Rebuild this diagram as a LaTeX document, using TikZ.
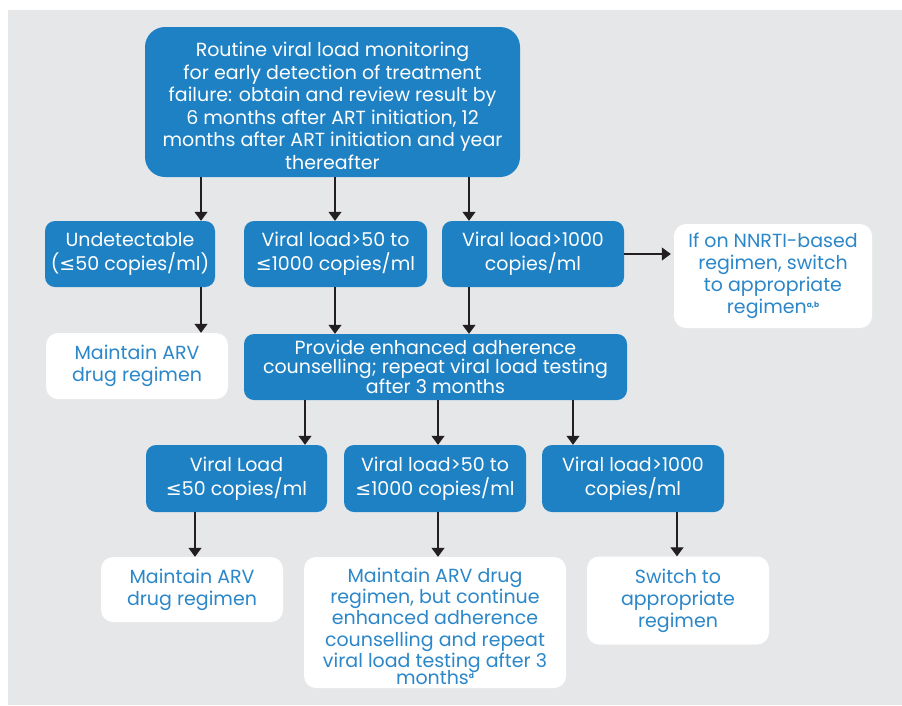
\documentclass[tikz,border=0pt]{standalone}
\usepackage{fontspec}
\setmainfont{Poppins}
\newfontfamily\djv{DejaVu Sans}
\usetikzlibrary{arrows.meta}
\definecolor{bg}{HTML}{E6E7E8}
\definecolor{boxblue}{HTML}{1E81C4}
\definecolor{txtblue}{HTML}{2B87C9}
\definecolor{arrowc}{HTML}{231F20}
\newcommand\lesym{{\djv\char"2264}}
\newcommand\supnote[1]{\raisebox{0.6ex}{\fontsize{7.5}{7.5}\selectfont\bfseries #1}}
\tikzset{
  bluebox/.style={fill=boxblue, text=white, rounded corners=10pt, align=center, inner sep=0pt,
    font=\fontsize{19}{24}\selectfont},
  whitebox/.style={fill=white, text=txtblue, rounded corners=12pt, align=center, inner sep=0pt,
    font=\fontsize{19}{22}\selectfont},
  arr/.style={draw=arrowc, line width=1.2pt, -{Triangle[width=13pt,length=9pt]}, fill=arrowc}
}
\begin{document}
\begin{tikzpicture}[x=1pt,y=-1pt]
\fill[white] (0,0) rectangle (902,705);
\useasboundingbox (0,0) rectangle (902,705);
\fill[bg] (8,10) rectangle (902,705);

% top
\node[bluebox, minimum width=375, minimum height=150, rounded corners=20pt,
  font=\fontsize{19}{22.5}\selectfont] (top) at (332.5,102)
  {\rule{0pt}{22pt}Routine viral load monitoring\\for early detection of treatment\\failure: obtain and review result by\\6 months after ART initiation, 12\\months after ART initiation and year\\thereafter};

% row 2
\node[bluebox, minimum width=170, minimum height=66] (u) at (130,254)
  {Undetectable\\(\lesym50 copies/ml)};
\node[bluebox, minimum width=183, minimum height=66] (v1) at (335.5,254)
  {Viral load>50 to\\\lesym1000 copies/ml};
\node[bluebox, minimum width=182, minimum height=66] (v2) at (533,254)
  {Viral load>1000\\copies/ml};
\node[whitebox, minimum width=198, minimum height=104] (nn) at (773,276)
  {If on NNRTI-based\\regimen, switch\\to appropriate\\regimen\supnote{a,b}};

% row 3
\node[whitebox, minimum width=182, minimum height=66] (m1) at (137,366)
  {Maintain ARV\\drug regimen};
\node[bluebox, minimum width=383, minimum height=66, font=\fontsize{19}{19}\selectfont] (pr) at (435.5,367)
  {Provide enhanced adherence\\counselling; repeat viral load testing\\after 3 months};

% row 4
\node[bluebox, minimum width=181, minimum height=67] (w1) at (236.5,478.5)
  {Viral Load\\\lesym50 copies/ml};
\node[bluebox, minimum width=182, minimum height=67] (w2) at (435,478.5)
  {Viral load>50 to\\\lesym1000 copies/ml};
\node[bluebox, minimum width=182, minimum height=67] (w3) at (633,478.5)
  {Viral load>1000\\copies/ml};

% row 5
\node[whitebox, minimum width=182, minimum height=65] (m2) at (192,589.5)
  {Maintain ARV\\drug regimen};
\node[whitebox, minimum width=262, minimum height=131, font=\fontsize{19}{21.3}\selectfont] (m3) at (435,622.5)
  {\rule{0pt}{22pt}Maintain ARV drug\\regimen, but continue\\enhanced adherence\\counselling and repeat\\viral load testing after 3\\[-4pt]months\supnote{d}};
\node[whitebox, minimum width=182, minimum height=88] (sw) at (678,600.5)
  {Switch to\\appropriate\\regimen};

% arrow x positions
\coordinate (a1) at (201,0);
\coordinate (a2) at (335,0);
\coordinate (a3) at (469,0);
\coordinate (b1) at (305,0);
\coordinate (b2) at (438,0);
\coordinate (b3) at (573,0);
\coordinate (c1) at (195,0);
\coordinate (c2) at (438,0);
\coordinate (c3) at (677,0);

\draw[arr] (top.south -| a1) -- (u.north -| a1);
\draw[arr] (top.south -| a2) -- (v1.north -| a2);
\draw[arr] (top.south -| a3) -- (v2.north -| a3);
\draw[arr] (v2.east) -- ([xshift=-3pt]nn.west |- v2.east);
\draw[arr] (u.south -| a1) -- (m1.north -| a1);
\draw[arr] (v1.south -| a2) -- (pr.north -| a2);
\draw[arr] (v2.south -| a3) -- (pr.north -| a3);
\draw[arr] (pr.south -| b1) -- (w1.north -| b1);
\draw[arr] (pr.south -| b2) -- (w2.north -| b2);
\draw[arr] (pr.south -| b3) -- (w3.north -| b3);
\draw[arr] (w1.south -| c1) -- (m2.north -| c1);
\draw[arr] (w2.south -| c2) -- (m3.north -| c2);
\draw[arr] (w3.south -| c3) -- (sw.north -| c3);
\end{tikzpicture}
\end{document}
